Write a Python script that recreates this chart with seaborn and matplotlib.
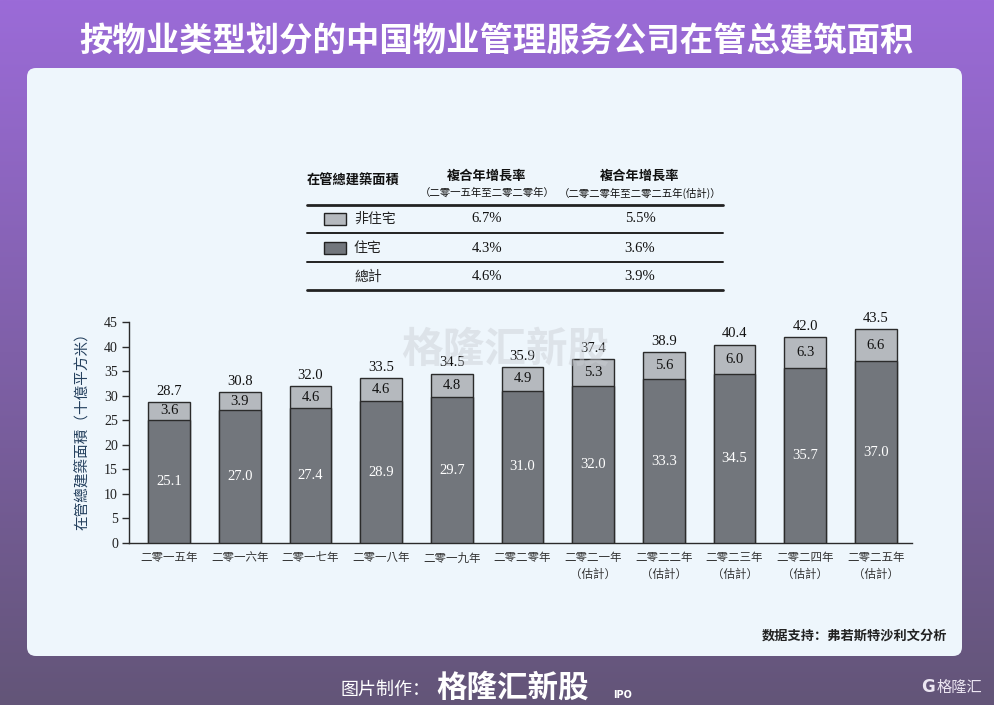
import numpy as np
import pandas as pd
import matplotlib
matplotlib.use("Agg")
import matplotlib.pyplot as plt
import seaborn as sns
from matplotlib.patches import FancyBboxPatch, Rectangle
from matplotlib.lines import Line2D

# ---------------- data ----------------
years = ["二零一五年", "二零一六年", "二零一七年", "二零一八年", "二零一九年", "二零二零年",
         "二零二一年\n（估計）", "二零二二年\n（估計）", "二零二三年\n（估計）",
         "二零二四年\n（估計）", "二零二五年\n（估計）"]
residential = [25.1, 27.0, 27.4, 28.9, 29.7, 31.0, 32.0, 33.3, 34.5, 35.7, 37.0]
non_residential = [3.6, 3.9, 4.6, 4.6, 4.8, 4.9, 5.3, 5.6, 6.0, 6.3, 6.6]
totals = [28.7, 30.8, 32.0, 33.5, 34.5, 35.9, 37.4, 38.9, 40.4, 42.0, 43.5]
yticks = [0, 5, 10, 15, 20, 25, 30, 35, 40, 45]

table_rows = ["非住宅", "住宅", "總計"]
cagr_hist = ["6.7%", "4.3%", "4.6%"]
cagr_fcst = ["5.5%", "3.6%", "3.9%"]

title = "按物业类型划分的中国物业管理服务公司在管总建筑面积"
ylabel = "在管總建築面積（十億平方米）"
source = "数据支持：弗若斯特沙利文分析"

# ---------------- style ----------------
sns.set_theme(style="white")
CJK = ["Noto Sans CJK SC", "DejaVu Sans"]
CJK_TC = ["Noto Sans CJK TC", "Noto Sans CJK SC", "DejaVu Sans"]
SERIF = ["Liberation Serif", "DejaVu Serif"]
plt.rcParams["font.family"] = CJK

W, H = 994, 705
fig = plt.figure(figsize=(W / 100, H / 100), dpi=100)


def fx(px):
    return px / W


def fy(py):
    return 1 - py / H


# background gradient
bg = fig.add_axes([0, 0, 1, 1], zorder=-10)
top = np.array([0x9b, 0x6b, 0xd8]) / 255
bot = np.array([0x63, 0x55, 0x78]) / 255
t = np.linspace(0, 1, 256)[:, None]
grad = top[None, :] * (1 - t) + bot[None, :] * t
bg.imshow(grad[:, None, :], aspect="auto", extent=[0, 1, 0, 1])
bg.set_axis_off()

# card
card = FancyBboxPatch((fx(27), fy(656)), fx(962) - fx(27), fy(68) - fy(656),
                      boxstyle="round,pad=0,rounding_size=0.009",
                      mutation_aspect=W / H,
                      transform=fig.transFigure, facecolor="#eef6fc",
                      edgecolor="none", zorder=-5)
fig.add_artist(card)

# title
fig.text(0.5, fy(42), title, ha="center", va="center", color="white",
         fontsize=24, fontweight="bold", family=CJK)

# ---------------- chart ----------------
ax_l, ax_r, ax_t, ax_b = 129, 912, 322, 543
ax = fig.add_axes([fx(ax_l), fy(ax_b), fx(ax_r) - fx(ax_l), fy(ax_t) - fy(ax_b)])
ax.set_facecolor("none")

df = pd.DataFrame({"year": years, "res": residential, "nonres": non_residential,
                   "total": totals})

DARK = "#72767c"
LIGHT = "#b5b9be"
EDGE = "#2b2b2b"
bw = 0.59
sns.barplot(data=df, x="year", y="total", color=LIGHT, width=bw,
            edgecolor=EDGE, linewidth=1.0, saturation=1, ax=ax, zorder=2)
sns.barplot(data=df, x="year", y="res", color=DARK, width=bw,
            edgecolor=EDGE, linewidth=1.0, saturation=1, ax=ax, zorder=3)

for i, (r, n, tot) in enumerate(zip(residential, non_residential, totals)):
    ax.text(i, r / 2, f"{r:.1f}", ha="center", va="center", color="white",
            fontsize=10.5, family=SERIF, zorder=5)
    ax.text(i, r + (tot - r) / 2, f"{n:.1f}", ha="center", va="center",
            color="#111111", fontsize=10.5, family=SERIF, zorder=5)
    ax.annotate(f"{tot:.1f}", (i, tot), xytext=(0, 3), textcoords="offset points",
                ha="center", va="bottom", color="#111111", fontsize=10.5,
                family=SERIF, zorder=5)

ax.set_xlim(-0.566, 10.51)
ax.set_ylim(0, 45)
ax.set_yticks(yticks)
ax.set_yticklabels([str(v) for v in yticks], family=SERIF, fontsize=10, color="#222222")
ax.set_xticks(range(len(years)))
ax.set_xticklabels(years, family=CJK_TC, fontsize=8.3, color="#333333",
                   linespacing=1.35)
ax.set_xticks(np.arange(-0.5, len(years), 1)[1:], minor=True)
ax.tick_params(axis="x", which="major", length=0, pad=6)
ax.tick_params(axis="x", which="minor", length=5, width=1, color=EDGE, direction="out")
ax.tick_params(axis="y", length=5, width=1, color=EDGE, direction="out", pad=3,
               left=True)
ax.set_xlabel("")
ax.set_ylabel("")
for s in ["top", "right"]:
    ax.spines[s].set_visible(False)
for s in ["left", "bottom"]:
    ax.spines[s].set_color(EDGE)
    ax.spines[s].set_linewidth(1.0)

fig.text(fx(83), fy(428), ylabel, rotation=90, ha="center", va="center",
         color="#24405e", fontsize=10.5, family=CJK_TC)

# watermark
fig.text(fx(505), fy(350), "格隆汇新股", ha="center", va="center",
         color="#c9cdd3", alpha=0.45, fontsize=30, fontweight="bold",
         family=CJK, zorder=10)

# ---------------- table ----------------
tx0, tx1 = 307, 723
col2, col3 = 487, 640
fig.text(fx(tx0), fy(181), "在管總建築面積", ha="left", va="center",
         fontsize=9.5, fontweight="bold", color="#111111", family=CJK_TC)
for cx, sub in [(col2, "（二零一五年至二零二零年）"), (col3, "（二零二零年至二零二五年(估計)）")]:
    fig.text(fx(cx), fy(176), "複合年增長率", ha="center", va="center",
             fontsize=9.5, fontweight="bold", color="#111111", family=CJK_TC)
    fig.text(fx(cx), fy(193), sub, ha="center", va="center",
             fontsize=7.5, color="#111111", family=CJK_TC)

for yy, lw in [(205, 2.0), (233, 1.4), (262, 1.4), (290, 2.0)]:
    fig.add_artist(Line2D([fx(tx0), fx(tx1)], [fy(yy), fy(yy)],
                          transform=fig.transFigure, color="#222222", lw=lw))

row_y = [219, 248, 277]
sw_colors = [LIGHT, DARK, None]
for name, h, f, yy, sc in zip(table_rows, cagr_hist, cagr_fcst, row_y, sw_colors):
    if sc is not None:
        fig.add_artist(Rectangle((fx(324), fy(yy + 6)), fx(346) - fx(324), fy(yy - 6) - fy(yy + 6),
                                 transform=fig.transFigure, facecolor=sc,
                                 edgecolor="#222222", lw=1))
    fig.text(fx(354), fy(yy), name, ha="left", va="center", fontsize=10,
             color="#222222", family=CJK_TC)
    fig.text(fx(col2), fy(yy), h, ha="center", va="center", fontsize=10.5,
             color="#111111", family=SERIF)
    fig.text(fx(col3), fy(yy), f, ha="center", va="center", fontsize=10.5,
             color="#111111", family=SERIF)

# source
fig.text(fx(947), fy(636), source, ha="right", va="center", fontsize=9.5,
         fontweight="bold", color="#222222", family=CJK)

# footer
fig.text(fx(340), fy(690), "图片制作：", ha="left", va="center", fontsize=13,
         color="white", family=CJK)
fig.text(fx(436), fy(688), "格隆汇新股", ha="left", va="center", fontsize=22,
         fontweight="bold", color="white", family=CJK)
fig.text(fx(613), fy(695), "IPO", ha="left", va="center", fontsize=7,
         fontweight="bold", color="white", family=["DejaVu Sans"])
fig.text(fx(921), fy(687), "G", ha="left", va="center", fontsize=12,
         fontweight="bold", color="#ece6f2", family=["DejaVu Sans"])
fig.text(fx(937), fy(687), "格隆汇", ha="left", va="center", fontsize=11,
         color="#ece6f2", family=CJK)

fig.savefig("out.png", dpi=100)
